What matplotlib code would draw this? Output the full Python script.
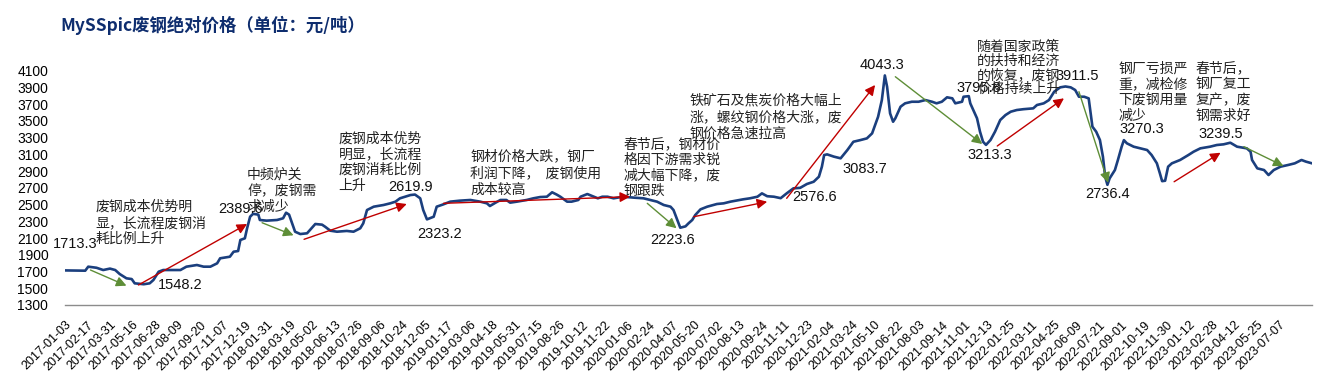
import matplotlib
matplotlib.use("Agg")
import matplotlib.pyplot as plt

# fonts: CJK first, DejaVu as fallback
plt.rcParams['font.family'] = ['Noto Sans CJK SC', 'DejaVu Sans']

# trading-day index (from 2017-01-03) and price
day_idx = [0, 27, 31, 42, 51, 60, 67, 73, 82, 89, 93, 105, 113, 118, 125, 131, 154, 162, 176, 185,
           194, 203, 207, 220, 225, 231, 234, 240, 243, 247, 251, 258, 260, 269, 283, 291, 295, 299, 303, 307,
           314, 323, 329, 334, 343, 347, 354, 363, 376, 385, 394, 398, 403, 412, 425, 434, 441, 447, 461, 467,
           474, 478, 483, 492, 496, 505, 514, 527, 541, 554, 563, 567, 574, 581, 589, 594, 603, 616, 625, 634,
           643, 650, 656, 661, 670, 676, 685, 688, 697, 706, 711, 717, 724, 732, 745, 759, 772, 781, 790, 799,
           808, 812, 817, 821, 828, 832, 837, 841, 848, 857, 870, 879, 888, 897, 905, 914, 924, 930, 937, 946,
           955, 963, 972, 981, 990, 999, 1006, 1010, 1013, 1017, 1026, 1035, 1044, 1052, 1061, 1070, 1077, 1081, 1085, 1090,
           1094, 1097, 1101, 1105, 1108, 1115, 1121, 1130, 1139, 1148, 1157, 1163, 1170, 1177, 1184, 1188, 1197, 1199, 1206, 1208,
           1212, 1217, 1221, 1225, 1229, 1235, 1241, 1248, 1255, 1262, 1270, 1279, 1292, 1297, 1306, 1313, 1320, 1328, 1335, 1342,
           1348, 1353, 1360, 1366, 1371, 1376, 1381, 1385, 1388, 1391, 1394, 1401, 1405, 1410, 1413, 1417, 1426, 1435, 1444, 1450,
           1457, 1461, 1464, 1468, 1472, 1477, 1488, 1499, 1506, 1515, 1528, 1537, 1546, 1555, 1564, 1577, 1582, 1584, 1591, 1600,
           1606, 1613, 1622, 1632, 1641, 1650, 1656, 1664]
price = [1713.3, 1710, 1758, 1745, 1718, 1735, 1718, 1670, 1619, 1610, 1559, 1548.2, 1559, 1599, 1698, 1718, 1718, 1758, 1778, 1758,
         1758, 1798, 1858, 1877, 1937, 1945, 2077, 2097, 2217, 2355, 2389.6, 2380, 2316, 2308, 2316, 2336, 2403, 2380, 2276, 2176,
         2148, 2157, 2217, 2268, 2260, 2236, 2188, 2176, 2185, 2176, 2217, 2276, 2435, 2475, 2495, 2515, 2535, 2575, 2614, 2619.9,
         2575, 2435, 2323.2, 2355, 2475, 2503, 2535, 2547, 2555, 2535, 2515, 2483, 2520, 2555, 2555, 2523, 2535, 2555, 2575, 2590,
         2594, 2647, 2620, 2594, 2535, 2535, 2555, 2594, 2626, 2594, 2575, 2594, 2594, 2575, 2594, 2583, 2575, 2555, 2535, 2495,
         2475, 2435, 2316, 2223.6, 2240, 2276, 2316, 2375, 2443, 2475, 2507, 2515, 2535, 2550, 2563, 2575, 2594, 2634, 2600, 2594,
         2576.6, 2634, 2694, 2700, 2746, 2773, 2833, 2953, 3092, 3100, 3073, 3053, 3152, 3251, 3270, 3291, 3351, 3451, 3550, 3749,
         4043.3, 3908, 3590, 3490, 3531, 3670, 3710, 3729, 3729, 3749, 3729, 3710, 3729, 3782, 3770, 3710, 3729, 3789, 3795.8, 3710,
         3630, 3531, 3371, 3251, 3213.3, 3272, 3371, 3511, 3570, 3610, 3630, 3640, 3650, 3690, 3710, 3749, 3849, 3901, 3911.5, 3901,
         3869, 3789, 3789, 3769, 3431, 3371, 3272, 3073, 2833, 2736.4, 2814, 2913, 3033, 3192, 3270.3, 3232, 3192, 3172, 3152, 3092,
         2993, 2874, 2780, 2785, 2953, 2993, 3033, 3092, 3132, 3172, 3192, 3212, 3220, 3239.5, 3192, 3172, 3132, 3033, 2933, 2913,
         2853, 2913, 2953, 2973, 2993, 3033, 3013, 2993]

# x tick labels, one every 30 trading days
tick_labels = ['2017-01-03', '2017-02-17', '2017-03-31', '2017-05-16', '2017-06-28', '2017-08-09', '2017-09-20',
               '2017-11-07', '2017-12-19', '2018-01-31', '2018-03-19', '2018-05-02', '2018-06-13', '2018-07-26',
               '2018-09-06', '2018-10-24', '2018-12-05', '2019-01-17', '2019-03-06', '2019-04-18', '2019-05-31',
               '2019-07-15', '2019-08-26', '2019-10-12', '2019-11-22', '2020-01-06', '2020-02-24', '2020-04-07',
               '2020-05-20', '2020-07-02', '2020-08-13', '2020-09-24', '2020-11-11', '2020-12-23', '2021-02-04',
               '2021-03-24', '2021-05-10', '2021-06-22', '2021-08-03', '2021-09-14', '2021-11-01', '2021-12-13',
               '2022-01-25', '2022-03-11', '2022-04-25', '2022-06-09', '2022-07-21', '2022-09-01', '2022-10-19',
               '2022-11-30', '2023-01-12', '2023-02-28', '2023-04-12', '2023-05-25', '2023-07-07']
tick_step = 30

# value labels (text, x, y)
value_labels = [('1713.3', -16, 2029), ('1548.2', 124, 1539), ('2389.6', 204, 2447), ('2619.9', 431, 2714),
                ('2323.2', 470, 2145), ('2223.6', 781, 2077), ('2576.6', 970, 2594), ('3083.7', 1037, 2922),
                ('4043.3', 1061, 4168), ('3795.8', 1190, 3890), ('3911.5', 1322, 4037), ('3213.3', 1204, 3092),
                ('3270.3', 1407, 3400), ('2736.4', 1362, 2626), ('3239.5', 1513, 3343)]

# comment blocks (text, x, top y, line spacing)
notes = [('废钢成本优势明\n显，长流程废钢消\n耗比例上升', 41, 2560, 1.2),
         ('中频炉关\n停，废钢需\n求减少', 243, 2937, 1.2),
         ('废钢成本优势\n明显，长流程\n废钢消耗比例\n上升', 365, 3372, 1.15),
         ('钢材价格大跌，钢厂\n利润下降，  废钢使用\n成本较高', 541, 3161, 1.25),
         ('春节后，钢材价\n格因下游需求锐\n减大幅下降，废\n钢跟跌', 745, 3304, 1.15),
         ('铁矿石及焦炭价格大幅上\n涨，螺纹钢价格大涨，废\n钢价格急速拉高', 834, 3830, 1.25),
         ('随着国家政策\n的扶持和经济\n的恢复，废钢\n价格持续上升', 1217, 4467, 1.0),
         ('钢厂亏损严\n重，减检修\n下废钢用量\n减少', 1406, 4208, 1.17),
         ('春节后，\n钢厂复工\n复产，废\n钢需求好', 1509, 4208, 1.15)]

# arrows (start x, start y, end x, end y)
green_arrows = [(34, 1718, 82, 1531), (263, 2283, 305, 2133), (777, 2515, 816, 2217),
                (1108, 4028, 1224, 3224), (1353, 3849, 1392, 2761), (1573, 3192, 1626, 2961)]
red_arrows = [(98, 1539, 243, 2268), (319, 2085, 456, 2507), (505, 2515, 754, 2594),
              (839, 2355, 937, 2534), (963, 2575, 1081, 3929), (1244, 3200, 1333, 3770),
              (1480, 2773, 1542, 3120)]

fig = plt.figure(figsize=(13.21, 3.82), dpi=100)
ax = fig.add_axes([65 / 1321, 1 - 305 / 382, (1312 - 65) / 1321, (305 - 70.7) / 382])

ax.plot(day_idx, price, color='#1B3F7E', linewidth=1.9, solid_joinstyle='round')

ax.set_xlim(0, day_idx[-1])
ax.set_ylim(1300, 4100)
ax.set_yticks(range(1300, 4101, 200))
ax.set_xticks(range(0, len(tick_labels) * tick_step, tick_step))
ax.set_xticklabels(tick_labels, rotation=45, ha='right', rotation_mode='anchor',
                   fontsize=9, family='Liberation Sans')
for lab in ax.get_yticklabels():
    lab.set_family('Liberation Sans')
    lab.set_fontsize(10)
ax.tick_params(axis='both', length=0)
ax.tick_params(axis='y', pad=12)
ax.tick_params(axis='x', pad=10)

for side in ['top', 'right', 'left']:
    ax.spines[side].set_visible(False)
ax.spines['bottom'].set_color('#8C8C8C')
ax.spines['bottom'].set_linewidth(1)

for txt, x, y in value_labels:
    ax.text(x, y, txt, fontsize=10.5, family='Liberation Sans', ha='left', va='center',
            color='#111111', clip_on=False)

for txt, x, y, ls in notes:
    ax.text(x, y, txt, fontsize=10, ha='left', va='top', linespacing=ls,
            color='#222222', clip_on=False)

for x0, y0, x1, y1 in green_arrows:
    ax.annotate('', xy=(x1, y1), xytext=(x0, y0),
                arrowprops=dict(arrowstyle='-|>', color='#5E8E37', lw=1,
                                mutation_scale=15, shrinkA=0, shrinkB=0))
for x0, y0, x1, y1 in red_arrows:
    ax.annotate('', xy=(x1, y1), xytext=(x0, y0),
                arrowprops=dict(arrowstyle='-|>', color='#C00000', lw=1,
                                mutation_scale=15, shrinkA=0, shrinkB=0))

fig.text(60 / 1321, 1 - 25 / 382, 'MySSpic废钢绝对价格（单位：元/吨）', fontsize=12.5,
         fontweight='bold', color='#0E2D6E', va='center', ha='left')

fig.savefig('out.png', dpi=100)
